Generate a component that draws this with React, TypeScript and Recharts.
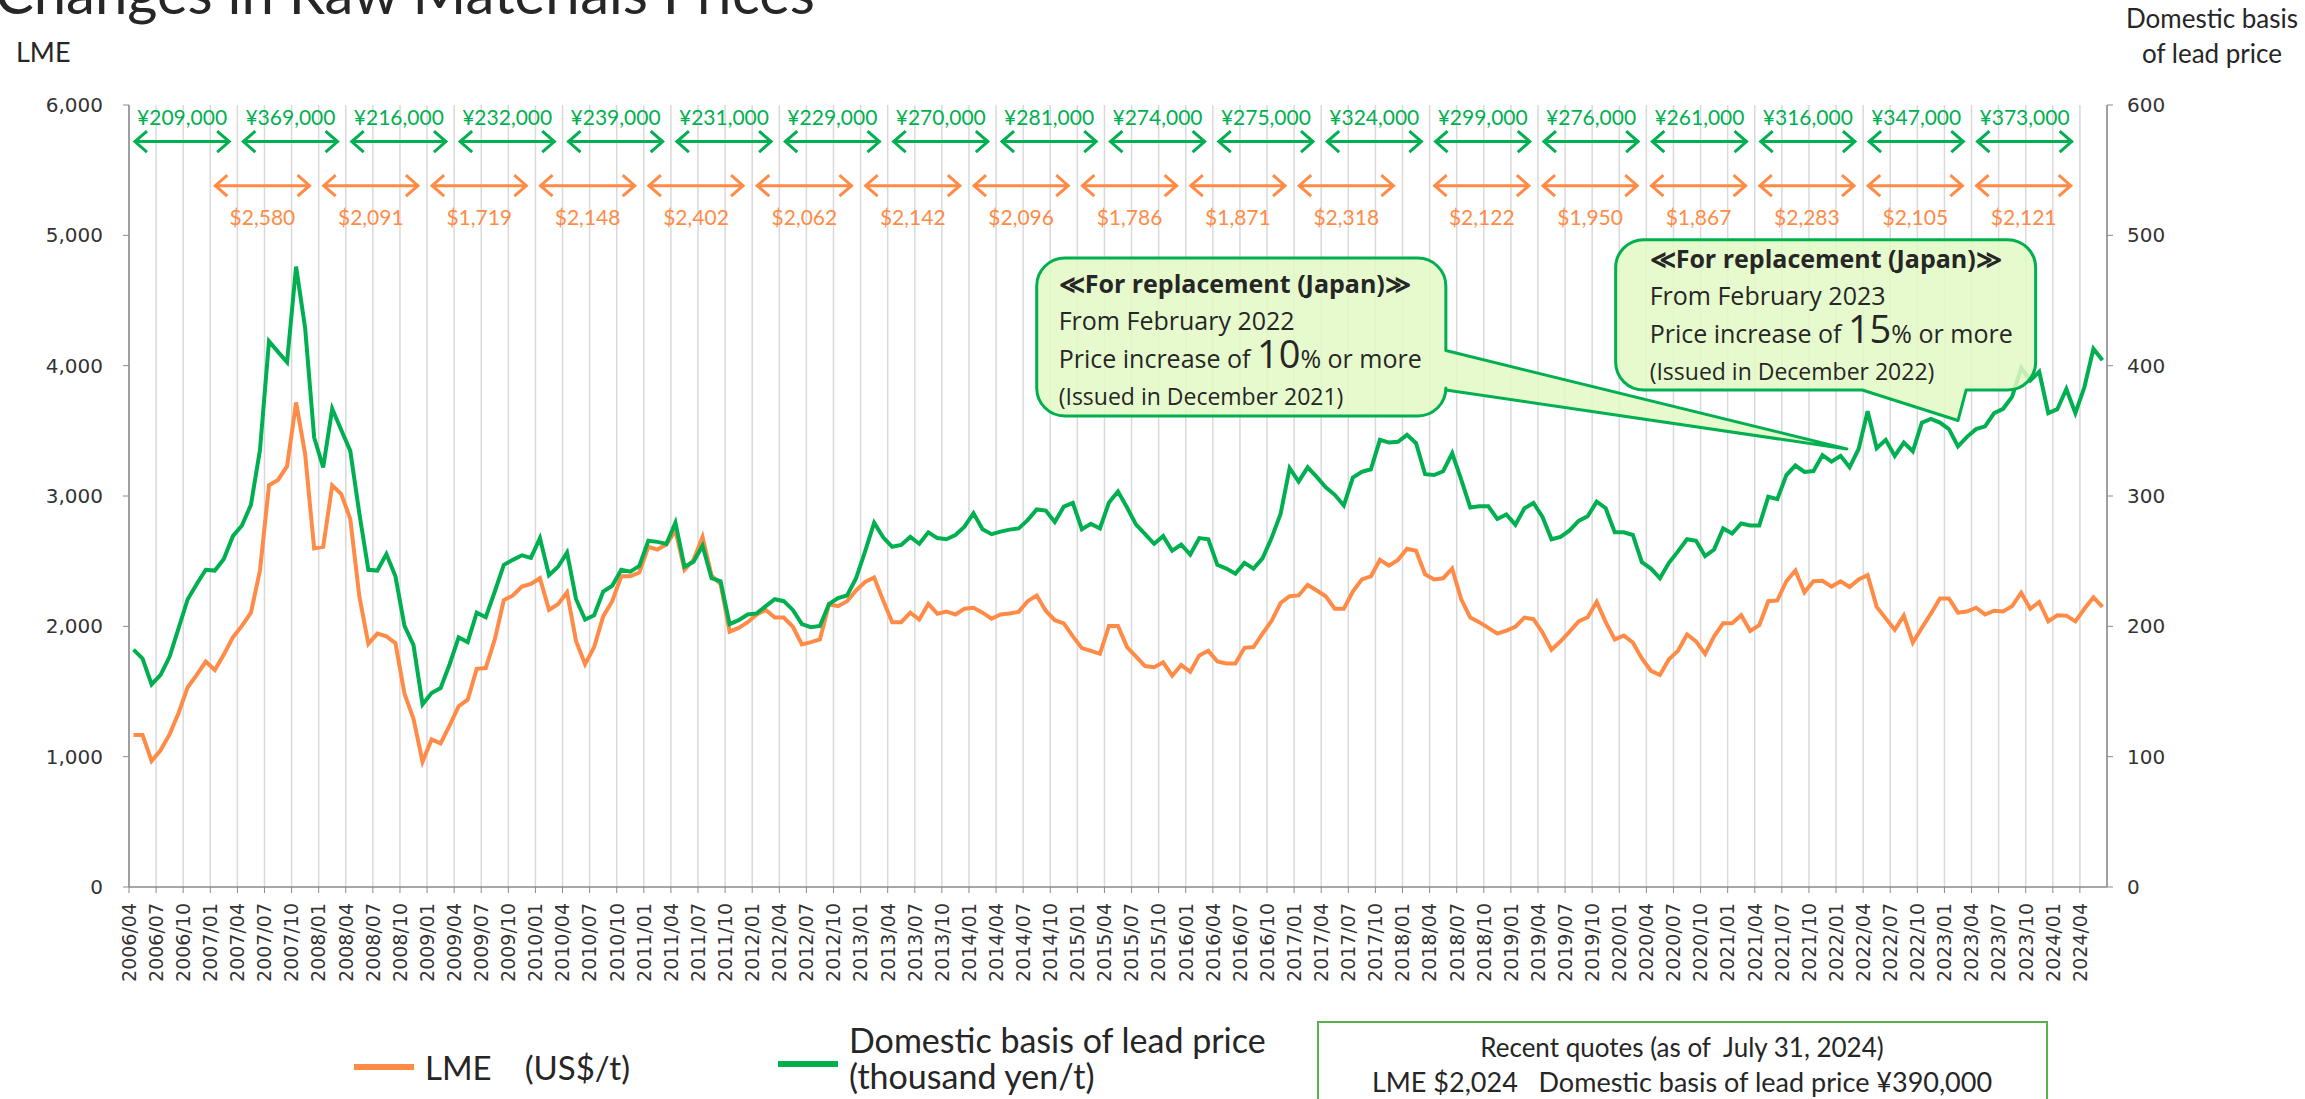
import React from 'react'
import {
  LineChart,
  Line,
  XAxis,
  YAxis,
  CartesianGrid,
  ReferenceLine,
  ReferenceArea,
} from 'recharts'

// monthly series, first point = 2006/04
const START_YEAR = 2006
const START_MONTH = 4

// LME lead price (US$/t)
const lmePrice = [
  1167, 1167, 967, 1049, 1173, 1337, 1533, 1627, 1730, 1665,
  1783, 1915, 2003, 2105, 2428, 3082, 3123, 3229, 3718, 3322,
  2598, 2610, 3082, 3015, 2824, 2231, 1865, 1944, 1923, 1871,
  1483, 1290, 961, 1132, 1102, 1240, 1387, 1437, 1674, 1680,
  1900, 2202, 2237, 2305, 2325, 2369, 2126, 2170, 2261, 1885,
  1709, 1841, 2076, 2193, 2384, 2384, 2413, 2610, 2589, 2627,
  2736, 2434, 2510, 2686, 2390, 2325, 1959, 1988, 2032, 2091,
  2126, 2067, 2067, 1997, 1862, 1879, 1900, 2170, 2155, 2193,
  2275, 2340, 2375, 2199, 2032, 2032, 2105, 2052, 2173, 2097,
  2114, 2091, 2135, 2143, 2105, 2058, 2091, 2099, 2111, 2193,
  2237, 2120, 2047, 2023, 1923, 1833, 1812, 1789, 2003, 2003,
  1841, 1768, 1695, 1686, 1724, 1621, 1703, 1651, 1777, 1812,
  1730, 1715, 1715, 1835, 1841, 1944, 2041, 2179, 2231, 2237,
  2319, 2275, 2231, 2135, 2135, 2267, 2360, 2384, 2510, 2466,
  2510, 2595, 2580, 2399, 2360, 2369, 2443, 2208, 2067, 2032,
  1988, 1944, 1967, 1997, 2067, 2055, 1953, 1821, 1885, 1959,
  2038, 2070, 2187, 2032, 1900, 1929, 1876, 1753, 1659, 1627,
  1747, 1812, 1938, 1885, 1789, 1923, 2023, 2023, 2085, 1964,
  2008, 2193, 2199, 2346, 2428, 2261, 2346, 2349, 2305, 2346,
  2302, 2360, 2393, 2149, 2061, 1973, 2082, 1876, 1988, 2097,
  2214, 2214, 2105, 2114, 2143, 2091, 2120, 2114, 2155, 2258,
  2135, 2187, 2038, 2085, 2082, 2038, 2135, 2223, 2149,
]

// domestic basis of lead price (thousand yen/t)
const domesticPrice = [
  182.1, 175.3, 155.4, 162.7, 176.8, 198.8, 220.8, 232.5, 243.4, 242.8,
  251.6, 269.2, 277.4, 293.2, 335.2, 418.8, 410.6, 402.6, 476, 429,
  344.9, 322, 366.9, 350.7, 334.6, 286.8, 243.4, 242.8, 255.4, 238.4,
  200.3, 185.6, 140.1, 148.9, 152.7, 170.9, 191.5, 187.9, 210.5, 207,
  226.7, 247.2, 251, 254.5, 252.5, 267.7, 239.3, 245.7, 256.6, 220.8,
  205.2, 208.5, 226.7, 231.1, 243.4, 241.9, 246.3, 265.7, 264.8, 263.3,
  279.5, 245.7, 249.5, 261.9, 236.9, 234.6, 201.7, 204.7, 209.1, 209.9,
  215.5, 220.8, 219.3, 212.6, 201.7, 199.4, 200.3, 217, 221.7, 223.7,
  236.9, 257.5, 279.5, 268.3, 261, 262.4, 268.6, 263.3, 272.1, 267.7,
  266.8, 270.1, 276.5, 286.8, 274.5, 270.7, 272.7, 274.2, 275.1, 281.5,
  289.7, 288.8, 280, 291.8, 294.7, 274.5, 278.6, 275.1, 295, 303.5,
  291.2, 278, 270.7, 263.3, 269.2, 258, 262.7, 255.1, 267.7, 266.8,
  247.2, 244.3, 240.4, 248.7, 244.3, 252.2, 267.7, 286.2, 321.4, 311.1,
  322, 314.7, 306.7, 300.9, 292.7, 314.1, 318.5, 320.5, 343.1, 341,
  341.6, 346.9, 340.5, 316.7, 316.1, 319, 332.8, 312.6, 291.2, 292.1,
  292.1, 282.4, 285.9, 278, 290.6, 294.7, 283.9, 266.8, 268.6, 273.6,
  280.9, 284.4, 295.6, 290.6, 272.1, 272.1, 270.1, 249.2, 244.3, 236.9,
  248.7, 257.5, 266.8, 265.7, 253.9, 258.9, 275.1, 271.2, 278.9, 277.4,
  277.4, 299.4, 297.6, 316.1, 323.4, 318.5, 319.1, 331.4, 326.4, 330.8,
  322, 336.1, 365.1, 336.7, 343.1, 330.8, 341, 334.3, 356.3, 359.2,
  356.3, 351.3, 338.1, 345.4, 351.3, 353.4, 363.6, 366.9, 376.2, 398.2,
  388.6, 395.3, 363.6, 366.6, 382.1, 363.6, 383.6, 412.9, 404.1,
]

const leftTicks = [0, 1000, 2000, 3000, 4000, 5000, 6000]
const rightTicks = [0, 100, 200, 300, 400, 500, 600]
const monthTicks = Array.from({ length: 73 }, (_, i) => i * 3)

// yearly average annotations (start month index of each period)
const yenStarts = [0, 12, 24, 36, 48, 60, 72, 84, 96, 108, 120, 132, 144, 156, 168, 180, 192, 204]
const yenLabels = [
  '¥209,000', '¥369,000', '¥216,000', '¥232,000', '¥239,000', '¥231,000',
  '¥229,000', '¥270,000', '¥281,000', '¥274,000', '¥275,000', '¥324,000',
  '¥299,000', '¥276,000', '¥261,000', '¥316,000', '¥347,000', '¥373,000',
]
const usdStarts = [9, 21, 33, 45, 57, 69, 81, 93, 105, 117, 129, 144, 156, 168, 180, 192, 204]
const usdLabels = [
  '$2,580', '$2,091', '$1,719', '$2,148', '$2,402', '$2,062', '$2,142',
  '$2,096', '$1,786', '$1,871', '$2,318', '$2,122', '$1,950', '$1,867',
  '$2,283', '$2,105', '$2,121',
]

const callouts = [
  {
    left: 100.5, right: 145.8, top: 4826, bottom: 3614,
    side: 'right', base: [4116, 3813], tip: [190.2, 3361],
    padX: 22, padTop: 35,
    period: 'From February 2022', pct: '10', issued: '(Issued in December 2021)',
  },
  {
    left: 164.6, right: 211.1, top: 4967, bottom: 3813,
    side: 'bottom', base: [191.9, 203.4], tip: [202.5, 3579],
    padX: 34, padTop: 28,
    period: 'From February 2023', pct: '15', issued: '(Issued in December 2022)',
  },
]

const ORANGE = '#FF8B47'
const GREEN = '#00B050'
const TEXT = '#262626'
const AXIS = '#8A8A8A'
const LATO = 'Lato, sans-serif'
const OPEN = "'Open Sans', sans-serif"
const DEJAVU = "'DejaVu Sans', sans-serif"

const data = lmePrice.map((v, i) => ({ m: i + 0.5, lme: v, dom: domesticPrice[i] }))

function monthLabel(m: number) {
  const t = START_MONTH - 1 + m
  const y = START_YEAR + Math.floor(t / 12)
  const mo = (t % 12) + 1
  return `${y}/${mo < 10 ? '0' + mo : mo}`
}

function MonthTick(props: any) {
  const { x, y, payload } = props
  return (
    <text
      x={x}
      y={y}
      transform={`rotate(-90 ${x} ${y})`}
      textAnchor="end"
      dy="0.36em"
      fontSize={19}
      fontFamily={DEJAVU}
      fill="#333"
    >
      {monthLabel(payload.value)}
    </text>
  )
}

function arrowShape(color: string, label: string, labelDy: number) {
  return (p: any) => {
    const { x1, x2, y1 } = p
    const h = 13
    const v = 10.5
    return (
      <g>
        <path
          d={`M${x1},${y1}H${x2}M${x1 + h},${y1 - v}L${x1 + 1},${y1}L${x1 + h},${y1 + v}M${x2 - h},${y1 - v}L${x2 - 1},${y1}L${x2 - h},${y1 + v}`}
          stroke={color}
          strokeWidth={3}
          fill="none"
        />
        <text x={(x1 + x2) / 2} y={y1 + labelDy} textAnchor="middle" fill={color} fontSize={21} fontFamily={LATO}>
          {label}
        </text>
      </g>
    )
  }
}

function calloutShape(c: any) {
  return (p: any) => {
    const { x, y, width, height } = p
    const sx = (m: number) => x + ((m - c.left) / (c.right - c.left)) * width
    const sy = (v: number) => y + ((c.top - v) / (c.top - c.bottom)) * height
    const r = 28
    const X2 = x + width
    const Y2 = y + height
    const tx = sx(c.tip[0])
    const ty = sy(c.tip[1])
    let d = `M${x + r},${y}H${X2 - r}A${r},${r} 0 0 1 ${X2},${y + r}`
    if (c.side === 'right') {
      d += `V${sy(c.base[0])}L${tx},${ty}L${X2},${sy(c.base[1])}V${Y2 - r}A${r},${r} 0 0 1 ${X2 - r},${Y2}H${x + r}`
    } else {
      d += `V${Y2 - r}A${r},${r} 0 0 1 ${X2 - r},${Y2}H${sx(c.base[1])}L${tx},${ty}L${sx(c.base[0])},${Y2}H${x + r}`
    }
    d += `A${r},${r} 0 0 1 ${x},${Y2 - r}V${y + r}A${r},${r} 0 0 1 ${x + r},${y}Z`
    const tx0 = x + c.padX
    const ty0 = y + c.padTop
    return (
      <g>
        <path d={d} fill="#E2F9C6" fillOpacity={0.85} stroke={GREEN} strokeWidth={3} strokeLinejoin="round" />
        <text x={tx0} y={ty0} fontFamily={OPEN} fontSize={25} fontWeight={700} fill={TEXT}>
          ≪For replacement (Japan)≫
        </text>
        <text x={tx0} y={ty0 + 37} fontFamily={OPEN} fontSize={25} fill={TEXT}>
          {c.period}
        </text>
        <text x={tx0} y={ty0 + 75} fontFamily={OPEN} fontSize={25} fill={TEXT}>
          Price increase of <tspan fontSize={38}>{c.pct}</tspan>% or more
        </text>
        <text x={tx0} y={ty0 + 112} fontFamily={OPEN} fontSize={23} fill={TEXT}>
          {c.issued}
        </text>
      </g>
    )
  }
}

export default function App() {
  return (
    <div style={{ position: 'absolute', left: 0, top: 0, width: 2305, height: 1099, overflow: 'hidden', background: '#fff' }}>
      <LineChart width={2305} height={1099} data={data} margin={{ top: 105, right: 138, bottom: 112, left: 69 }}>
        <CartesianGrid vertical horizontal={false} stroke="#D9D9D9" strokeWidth={1.5} yAxisId="left" />
        <XAxis
          dataKey="m"
          type="number"
          domain={[0, 219]}
          ticks={monthTicks}
          interval={0}
          tick={<MonthTick />}
          tickSize={6}
          tickMargin={10}
          height={100}
          axisLine={{ stroke: AXIS, strokeWidth: 1.5 }}
          tickLine={{ stroke: AXIS }}
        />
        <YAxis
          yAxisId="left"
          domain={[0, 6000]}
          ticks={leftTicks}
          width={60}
          tickSize={6}
          tickMargin={20}
          tickFormatter={(v: number) => v.toLocaleString('en-US')}
          tick={{ fill: '#333', fontSize: 20, fontFamily: DEJAVU }}
          axisLine={{ stroke: AXIS, strokeWidth: 1.5 }}
          tickLine={{ stroke: AXIS }}
        />
        <YAxis
          yAxisId="right"
          orientation="right"
          domain={[0, 600]}
          ticks={rightTicks}
          width={60}
          tickSize={6}
          tickMargin={14}
          tick={{ fill: '#333', fontSize: 20, fontFamily: DEJAVU }}
          axisLine={{ stroke: AXIS, strokeWidth: 1.5 }}
          tickLine={{ stroke: AXIS }}
        />
        <Line
          yAxisId="left"
          type="linear"
          dataKey="lme"
          stroke={ORANGE}
          strokeWidth={4}
          dot={false}
          isAnimationActive={false}
        />
        <Line
          yAxisId="right"
          type="linear"
          dataKey="dom"
          stroke={GREEN}
          strokeWidth={4}
          dot={false}
          isAnimationActive={false}
        />
        {yenStarts.map((s, i) => (
          <ReferenceLine
            key={'yen' + i}
            yAxisId="left"
            segment={[{ x: s + 0.55, y: 5719 }, { x: s + 11.2, y: 5719 }]}
            shape={arrowShape(GREEN, yenLabels[i], -16.7)}
          />
        ))}
        {usdStarts.map((s, i) => (
          <ReferenceLine
            key={'usd' + i}
            yAxisId="left"
            segment={[{ x: s + 0.45, y: 5381 }, { x: s + 11.1, y: 5381 }]}
            shape={arrowShape(ORANGE, usdLabels[i], 39.3)}
          />
        ))}
        {callouts.map((c, i) => (
          <ReferenceArea
            key={'call' + i}
            yAxisId="left"
            x1={c.left}
            x2={c.right}
            y1={c.bottom}
            y2={c.top}
            zIndex={1000}
            shape={calloutShape(c)}
          />
        ))}
      </LineChart>

      <svg width={2305} height={1099} style={{ position: 'absolute', left: 0, top: 0, pointerEvents: 'none' }}>
        <text x={-5} y={14} fontFamily={LATO} fontSize={58} fill={TEXT}>
          Changes in Raw Materials Prices
        </text>
        <text x={16} y={62} fontFamily={LATO} fontSize={27} fill={TEXT}>
          LME
        </text>
        <text x={2212} y={28} textAnchor="middle" fontFamily={LATO} fontSize={26} fill={TEXT}>
          Domestic basis
        </text>
        <text x={2212} y={63} textAnchor="middle" fontFamily={LATO} fontSize={26} fill={TEXT}>
          of lead price
        </text>

        <line x1={354} x2={414} y1={1067} y2={1067} stroke={ORANGE} strokeWidth={6} />
        <text x={425} y={1080} fontFamily={LATO} fontSize={33} fill={TEXT}>
          LME　(US$/t)
        </text>
        <line x1={778} x2={838} y1={1064} y2={1064} stroke={GREEN} strokeWidth={6} />
        <text x={849} y={1053} fontFamily={LATO} fontSize={34} fill={TEXT}>
          Domestic basis of lead price
        </text>
        <text x={849} y={1089} fontFamily={LATO} fontSize={34} fill={TEXT}>
          (thousand yen/t)
        </text>

        <rect x={1318} y={1022} width={729} height={100} fill="#fff" stroke="#5AAE4E" strokeWidth={2} />
        <text x={1682} y={1057} textAnchor="middle" fontFamily={LATO} fontSize={26} fill={TEXT} style={{ whiteSpace: 'pre' }}>
          {'Recent quotes (as of  July 31, 2024)'}
        </text>
        <text x={1682} y={1092} textAnchor="middle" fontFamily={LATO} fontSize={27} fill={TEXT} style={{ whiteSpace: 'pre' }}>
          {'LME $2,024   Domestic basis of lead price ¥390,000'}
        </text>
      </svg>
    </div>
  )
}
